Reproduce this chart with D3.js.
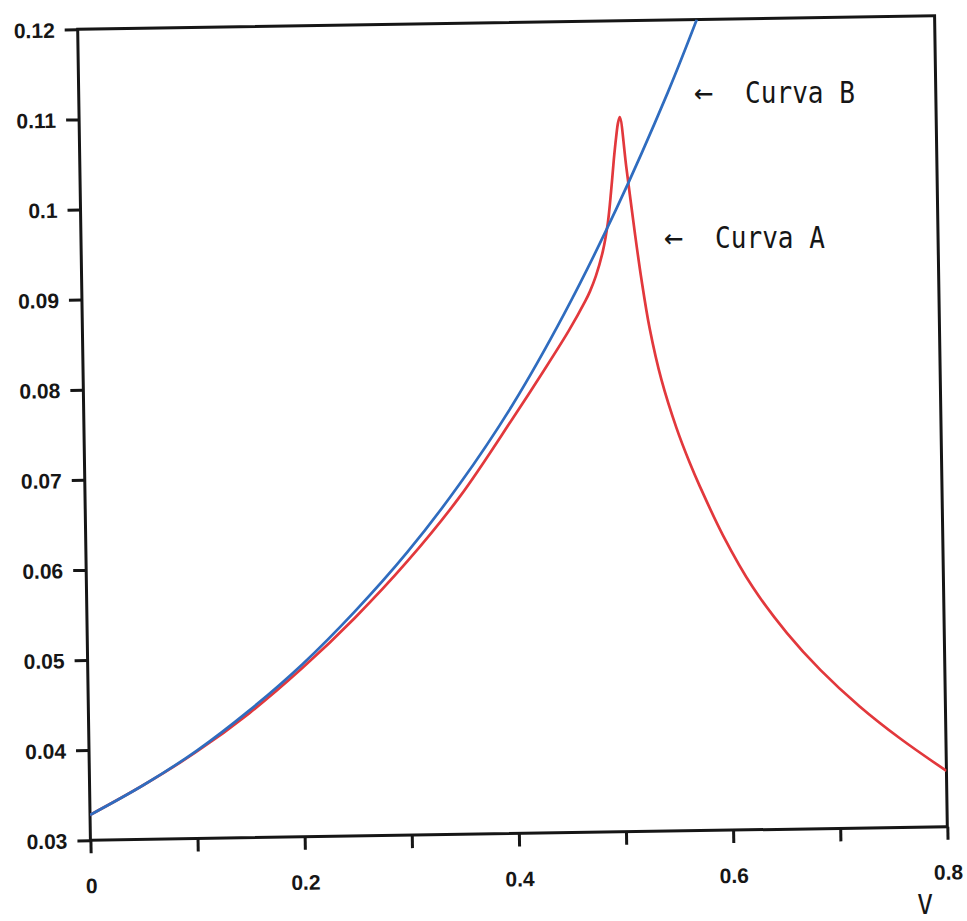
<!DOCTYPE html>
<html>
<head>
<meta charset="utf-8">
<script src="https://cdn.jsdelivr.net/npm/d3@7"></script>
<style>
	body { margin: 0; background: #fff; }
	svg { display: block; }
</style>
</head>
<body>
<svg id="chart" width="967" height="921"></svg>
<script>
// curve B (blue)
var vB = [0, 0.05, 0.1, 0.15, 0.2, 0.25, 0.3, 0.35, 0.4, 0.45, 0.5, 0.55, 0.578];
var curvaB = [0.0328, 0.0360, 0.0397, 0.0441, 0.0491, 0.0549, 0.0614, 0.0689, 0.0775, 0.0876, 0.0991, 0.1120, 0.1200];

// curve A (red)
var vA = [0, 0.05, 0.1, 0.15, 0.2, 0.25, 0.3, 0.35, 0.4, 0.43, 0.454, 0.47, 0.4742, 0.48, 0.487, 0.492, 0.4955, 0.4985,
	0.501, 0.503, 0.5047, 0.5101, 0.5169, 0.5225, 0.5295, 0.5397, 0.5531, 0.565, 0.574, 0.595, 0.622, 0.653, 0.684,
	0.72, 0.757, 0.8];
var curvaA = [0.0328, 0.0360, 0.0396, 0.0438, 0.0487, 0.0542, 0.0604, 0.0675, 0.0760, 0.0813, 0.0857, 0.0890, 0.0900,
	0.0917, 0.0945, 0.0976, 0.1011, 0.1046, 0.1071, 0.1087, 0.1093, 0.1037, 0.0966, 0.0913, 0.0858, 0.0801, 0.0747,
	0.0708, 0.0682, 0.0627, 0.0569, 0.0518, 0.0476, 0.0435, 0.0399, 0.0362];

var xTicks = [0, 0.1, 0.2, 0.3, 0.4, 0.5, 0.6, 0.7, 0.8];
var xLabels = ['0', '', '0.2', '', '0.4', '', '0.6', '', '0.8'];
var yTicks = [0.03, 0.04, 0.05, 0.06, 0.07, 0.08, 0.09, 0.10, 0.11, 0.12];
var yLabels = ['0.03', '0.04', '0.05', '0.06', '0.07', '0.08', '0.09', '0.1', '0.11', '0.12'];

var box = {left: 84, right: 941, top: 22.5, bottom: 833.5};
var ink = '#161616';

var svg = d3.select('#chart');

// the scanned page is a bit tilted
var page = svg.append('g')
	.attr('transform', 'rotate(-0.9,512.5,428)');

var x = d3.scaleLinear().domain([0, 0.8]).range([box.left, box.right]);
var y = d3.scaleLinear().domain([0.03, 0.12]).range([box.bottom, box.top]);

page.append('defs').append('clipPath')
	.attr('id', 'plot-clip')
	.append('rect')
		.attr('x', box.left)
		.attr('y', box.top)
		.attr('width', box.right - box.left)
		.attr('height', box.bottom - box.top);

var xAxis = d3.axisBottom(x)
	.tickValues(xTicks)
	.tickSize(13)
	.tickSizeOuter(0)
	.tickPadding(25)
	.tickFormat(function(d, i){ return xLabels[i]; });

var yAxis = d3.axisLeft(y)
	.tickValues(yTicks)
	.tickSize(13)
	.tickSizeOuter(0)
	.tickPadding(10)
	.tickFormat(function(d, i){ return yLabels[i]; });

var gx = page.append('g')
	.attr('transform', 'translate(0,' + box.bottom + ')')
	.call(xAxis);
var gy = page.append('g')
	.attr('transform', 'translate(' + box.left + ',0)')
	.call(yAxis);

[gx, gy].forEach(function(g){
	g.select('.domain').remove();
	g.selectAll('.tick line')
		.attr('stroke', ink)
		.attr('stroke-width', 3);
	g.selectAll('.tick text')
		.attr('fill', ink)
		.style('font-family', '"Liberation Sans", Arial, sans-serif')
		.style('font-weight', 'bold')
		.style('font-size', '21px');
});
gy.selectAll('.tick text').attr('dy', '0.36em');

// frame
page.append('rect')
	.attr('x', box.left)
	.attr('y', box.top)
	.attr('width', box.right - box.left)
	.attr('height', box.bottom - box.top)
	.attr('fill', 'none')
	.attr('stroke', ink)
	.attr('stroke-width', 3);

var line = d3.line()
	.x(function(d){ return x(d[0]); })
	.y(function(d){ return y(d[1]); })
	.curve(d3.curveCatmullRom.alpha(0.5));

var plot = page.append('g').attr('clip-path', 'url(#plot-clip)');

plot.append('path')
	.datum(d3.zip(vA, curvaA))
	.attr('d', line)
	.attr('fill', 'none')
	.attr('stroke', '#e2383c')
	.attr('stroke-width', 2.7)
	.attr('stroke-linejoin', 'round');

plot.append('path')
	.datum(d3.zip(vB, curvaB))
	.attr('d', line)
	.attr('fill', 'none')
	.attr('stroke', '#2f6cbf')
	.attr('stroke-width', 2.7);

// annotations
var mono = '"DejaVu Sans Mono", "Liberation Mono", monospace';
var notes = [
	{arrow: [694, 103], text: [745, 103], label: 'Curva B'},
	{arrow: [664, 248], text: [715, 248], label: 'Curva A'}
];
notes.forEach(function(n){
	svg.append('text')
		.attr('x', n.arrow[0])
		.attr('y', n.arrow[1])
		.attr('fill', ink)
		.style('font-family', mono)
		.style('font-size', '32px')
		.text('\u2190');
	svg.append('text')
		.attr('x', n.text[0])
		.attr('y', n.text[1])
		.attr('fill', ink)
		.attr('textLength', 110)
		.attr('lengthAdjust', 'spacingAndGlyphs')
		.style('font-family', mono)
		.style('font-size', '30px')
		.text(n.label);
});

svg.append('text')
	.attr('x', 925)
	.attr('y', 914)
	.attr('text-anchor', 'middle')
	.attr('fill', ink)
	.style('font-family', mono)
	.style('font-size', '26px')
	.text('V');
</script>
</body>
</html>
